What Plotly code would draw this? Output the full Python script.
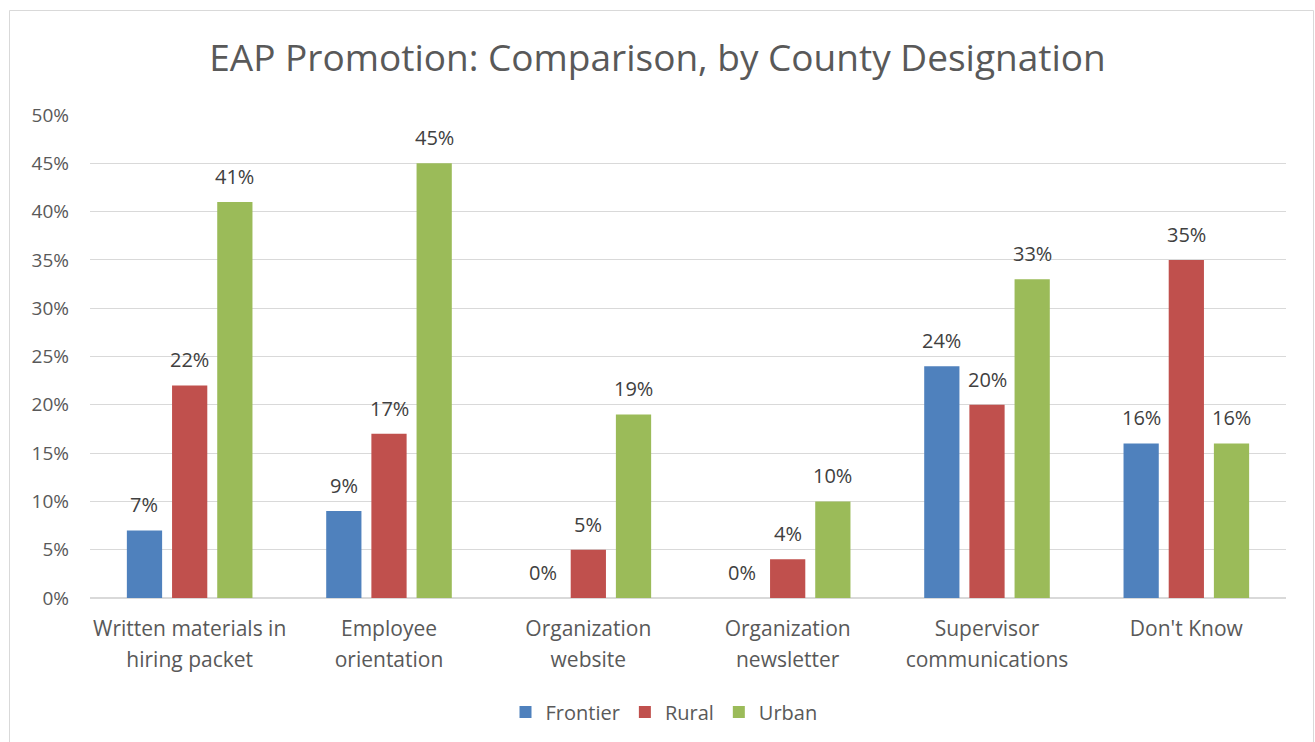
import plotly.graph_objects as go

categories = [
    "Written materials in<br>hiring packet",
    "Employee<br>orientation",
    "Organization<br>website",
    "Organization<br>newsletter",
    "Supervisor<br>communications",
    "Don't Know",
]
frontier = [7, 9, 0, 0, 24, 16]
rural = [22, 17, 5, 4, 20, 35]
urban = [41, 45, 19, 10, 33, 16]

series = [
    ("Frontier", frontier, "#4F81BD"),
    ("Rural", rural, "#C0504D"),
    ("Urban", urban, "#9BBB59"),
]

FONT = "Open Sans"
TEXT_GRAY = "#595959"
LABEL_GRAY = "#404040"

W, H = 1315, 742
ml, mr, mt, mb = 90, 29, 115, 144
pw, ph = W - ml - mr, H - mt - mb
BARGAP, GROUPGAP = 0.32, 0.22

def px_to_paper_x(px):
    return (px - ml) / pw

def px_to_paper_y(py):
    return (H - mb - py) / ph

# width of one series slot inside a category group, in pixels
slot_px = (1 - BARGAP) * (pw / len(categories)) / len(series)

fig = go.Figure()
annotations = []
for i, (name, vals, color) in enumerate(series):
    fig.add_trace(go.Bar(
        name=name,
        x=categories,
        y=vals,
        marker=dict(color=color, line=dict(width=0)),
    ))
    # value labels above each bar
    for cat, v in zip(categories, vals):
        annotations.append(dict(
            x=cat,
            y=v,
            xref="x",
            yref="y",
            text=f"{v}%",
            showarrow=False,
            xanchor="center",
            yanchor="bottom",
            xshift=(i - (len(series) - 1) / 2) * slot_px,
            yshift=10,
            font=dict(family=FONT, size=20, color=LABEL_GRAY),
        ))

# category labels with wider line spacing
tick_text = [f'<span style="font-size:21px">{c}</span>' for c in categories]

fig.update_layout(
    width=W,
    height=H,
    margin=dict(l=ml, r=mr, t=mt, b=mb, autoexpand=False),
    paper_bgcolor="white",
    plot_bgcolor="white",
    barmode="group",
    bargap=BARGAP,
    bargroupgap=GROUPGAP,
    title=dict(
        text="EAP Promotion: Comparison, by County Designation",
        font=dict(family=FONT, size=37, color=TEXT_GRAY),
        x=0.5,
        xanchor="center",
        y=1 - 58 / H,
        yanchor="middle",
    ),
    font=dict(family=FONT, color=TEXT_GRAY),
    legend=dict(
        orientation="h",
        x=px_to_paper_x(664),
        xanchor="center",
        y=px_to_paper_y(712),
        yanchor="middle",
        font=dict(family=FONT, size=20, color=TEXT_GRAY),
        itemsizing="constant",
        itemwidth=30,
        traceorder="normal",
    ),
    xaxis=dict(
        tickmode="array",
        tickvals=categories,
        ticktext=tick_text,
        tickfont=dict(family=FONT, size=24, color=TEXT_GRAY),
        ticklabelstandoff=8,
        showline=True,
        linecolor="#D9D9D9",
        linewidth=1,
        ticks="",
        showgrid=False,
    ),
    yaxis=dict(
        range=[0, 50],
        dtick=5,
        ticksuffix="%",
        tickfont=dict(family=FONT, size=19, color=TEXT_GRAY),
        showgrid=True,
        gridcolor="#D9D9D9",
        gridwidth=1,
        zeroline=True,
        zerolinecolor="#D9D9D9",
        showline=False,
        ticks="",
        ticklabelstandoff=20,
    ),
    annotations=annotations,
    shapes=[dict(
        type="rect",
        xref="paper",
        yref="paper",
        x0=px_to_paper_x(9.5),
        x1=px_to_paper_x(1313.5),
        y0=px_to_paper_y(760),
        y1=px_to_paper_y(10.5),
        line=dict(color="#D9D9D9", width=1),
        fillcolor="rgba(0,0,0,0)",
        layer="below",
    )],
)

fig.write_html("out.html")
